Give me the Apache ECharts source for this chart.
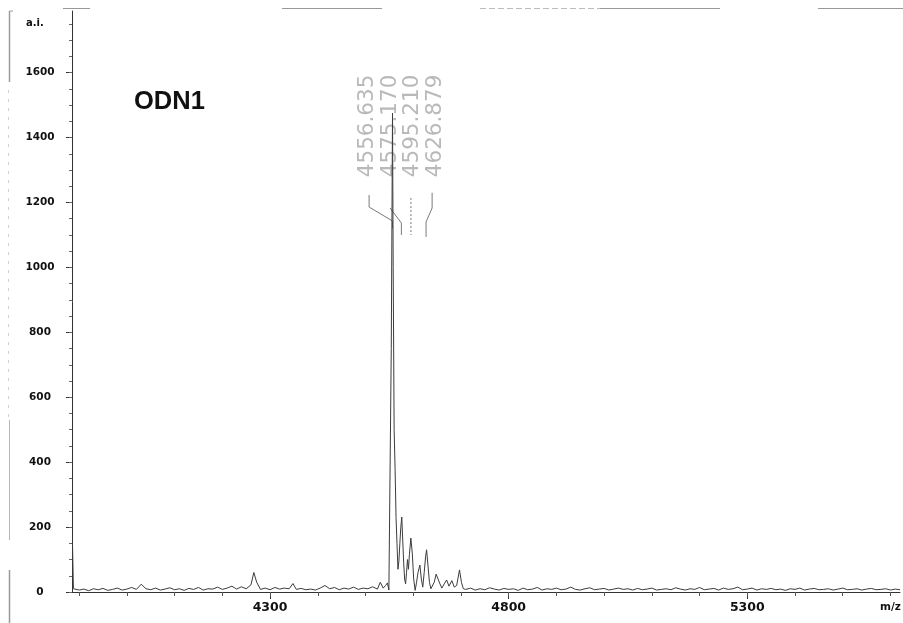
<!DOCTYPE html>
<html><head><meta charset="utf-8">
<script src="https://cdn.jsdelivr.net/npm/echarts@6/dist/echarts.min.js"></script>
<style>html,body{margin:0;padding:0;background:#fff}#c{width:903px;height:623px}</style>
</head><body><div id="c"></div>
<script>
// ---- data (m/z vs. intensity a.i.) ----
const massAxis = [
  3886, 3888, 3890, 3900, 3910, 3920, 3930, 3940, 3950, 3960,
  3970, 3980, 3990, 4000, 4010, 4020, 4030, 4040, 4050, 4060,
  4070, 4080, 4090, 4100, 4110, 4120, 4130, 4140, 4150, 4160,
  4170, 4180, 4190, 4200, 4210, 4220, 4230, 4240, 4250, 4260,
  4266, 4272, 4280, 4290, 4300, 4310, 4320, 4330, 4340, 4348,
  4355, 4365, 4375, 4385, 4395, 4405, 4415, 4425, 4435, 4445,
  4455, 4465, 4475, 4485, 4495, 4505, 4515, 4525, 4531, 4537,
  4542, 4546, 4549, 4552, 4554, 4556.6, 4558, 4560, 4562, 4564,
  4566, 4568, 4570, 4572, 4574, 4576, 4578, 4580, 4582, 4584,
  4586, 4588, 4590, 4592, 4595, 4598, 4601, 4604, 4607, 4610,
  4614, 4617, 4620, 4623, 4626, 4628, 4631, 4634, 4637, 4640,
  4644, 4648, 4652, 4656, 4660, 4665, 4670, 4675, 4681, 4686,
  4691, 4697, 4701, 4705, 4710, 4720, 4730, 4740, 4750, 4760,
  4770, 4780, 4790, 4800, 4810, 4820, 4830, 4840, 4850, 4860,
  4870, 4880, 4890, 4900, 4910, 4920, 4930, 4940, 4950, 4960,
  4970, 4980, 4990, 5000, 5010, 5020, 5030, 5040, 5050, 5060,
  5070, 5080, 5090, 5100, 5110, 5120, 5130, 5140, 5150, 5160,
  5170, 5180, 5190, 5200, 5210, 5220, 5230, 5240, 5250, 5260,
  5270, 5280, 5290, 5300, 5310, 5320, 5330, 5340, 5350, 5360,
  5370, 5380, 5390, 5400, 5410, 5420, 5430, 5440, 5450, 5460,
  5470, 5480, 5490, 5500, 5510, 5520, 5530, 5540, 5550, 5560,
  5570, 5580, 5590, 5600, 5610, 5620
];
const intensity = [
   150,   10,   12,    6,    9,    4,   10,    7,   11,    5,
     8,   12,    6,    9,   14,    8,   24,   10,    7,   12,
     6,    9,   13,    7,   10,    5,   11,    8,   14,    6,
    10,    9,   15,    8,   12,   18,    9,   16,   10,   22,
    60,   30,    8,   12,    7,   14,    9,   12,   10,   26,
     8,   11,    7,    9,    6,   12,   20,   10,   14,    7,
    12,    9,   15,    8,   12,   10,   16,    9,   30,   12,
    20,   28,    6,   10,  750, 1475, 1000,  500,  380,  230,
   150,   70,   95,  150,  200,  231,  160,   90,   40,   25,
    60,  100,   70,  115,  166,  120,   40,    5,   30,   60,
    83,   40,   15,   60,  110,  130,   80,   30,   10,    8,
    30,   55,   58,   25,   12,   25,   37,   18,   35,   15,
    20,   68,   30,   10,    8,   12,    6,   10,    7,   13,
     9,    6,   11,    8,   10,    5,   12,    7,    9,   14,
     6,   10,    8,   12,    7,    9,   15,    8,    6,   10,
    13,    7,    9,   11,    6,    9,   12,    8,   10,    6,
    11,    7,    9,   12,    6,    8,   10,    7,   13,    9,
     6,   10,    8,   14,    7,    9,   11,    6,   12,    8,
    10,   15,    7,    9,   12,    6,   10,    8,   11,    7,
     9,    5,   10,    8,   12,    6,    9,   11,    7,    8,
    10,    6,    9,   12,    7,    8,   10,    6,    9,   11,
     7,    8,   10,    6,    9,    7
];
const peakMasses = [4556.635, 4575.170, 4595.210, 4626.879];
const xTickLabels = [4300, 4800, 5300];
const yTickLabels = [0, 200, 400, 600, 800, 1000, 1200, 1400, 1600];
const sampleName = 'ODN1';

// ---- layout (not data) ----
const X_MIN = 3885, X_MAX = 5620, Y_MIN = 0, Y_MAX = 1790;
const xMinorTicks = [];
for (let v = 3900; v <= 5600; v += 100) xMinorTicks.push(v);
const yMinorTicks = [];
for (let v = 0; v <= 1750; v += 50) yMinorTicks.push(v);
const labelOffsetMz = [-51.6, -23.6, 2.5, 19.1];   // text column position relative to peak
const labelCenterY = 1436;
const leaderShapes = [
  [[-49.1, 1223], [-49.1, 1186], [0, 1143], [0, 1120]],
  [[-23.6, 1183], [0, 1137], [0, 1100]],
  [[0, 1214], [0, 1100]],
  [[12.7, 1230], [12.7, 1183], [0, 1140], [0, 1094]]
];

const spectrum = massAxis.map((m, i) => [m, intensity[i]]);
const GRID = { left: 72, right: 3, top: 11, bottom: 31 };
const plain = (v) => String(v);

const series = [{
  type: 'line', xAxisIndex: 0, yAxisIndex: 0, data: spectrum,
  showSymbol: false, symbol: 'none', sampling: null,
  lineStyle: { color: '#3c3c3c', width: 1 }, silent: true, z: 3
}, {
  type: 'scatter', xAxisIndex: 0, yAxisIndex: 0,
  data: peakMasses.map((p, i) => ({ value: [p + labelOffsetMz[i], labelCenterY], name: p.toFixed(3) })),
  symbolSize: 1, itemStyle: { color: 'rgba(0,0,0,0)' }, silent: true,
  label: {
    show: true, position: 'inside', rotate: 90, align: 'center', verticalAlign: 'middle',
    formatter: (p) => p.name,
    fontFamily: "'DejaVu Sans ExtraLight', 'DejaVu Sans'", fontSize: 21.5, color: '#a8a8a8'
  }, z: 2
}];
leaderShapes.forEach((shape, i) => {
  series.push({
    type: 'line', xAxisIndex: 0, yAxisIndex: 0, silent: true, showSymbol: false, symbol: 'none',
    data: shape.map(([d, y]) => [peakMasses[i] + d, y]),
    lineStyle: { color: '#7a7a7a', width: 1, type: i === 2 ? [2, 2] : 'solid' }, z: 2
  });
});

const axisFont = { fontFamily: 'DejaVu Sans', fontWeight: 'bold', color: '#111' };
const option = {
  animation: false,
  backgroundColor: '#fff',
  title: {
    text: sampleName, left: 129, top: 84,
    textStyle: { fontFamily: 'Liberation Sans', fontWeight: 'bold', fontSize: 25.5, color: '#111' }
  },
  grid: [Object.assign({}, GRID), Object.assign({}, GRID)],
  xAxis: [{
    type: 'value', gridIndex: 0, min: X_MIN, max: X_MAX, position: 'bottom',
    axisLine: { show: true, onZero: false, lineStyle: { color: '#333', width: 1 } },
    axisTick: { show: true, customValues: xTickLabels, length: 7, lineStyle: { color: '#333' } },
    axisLabel: Object.assign({ customValues: xTickLabels, margin: 9, fontSize: 12.5, formatter: plain }, axisFont),
    splitLine: { show: false }
  }, {
    type: 'value', gridIndex: 1, min: X_MIN, max: X_MAX, position: 'bottom',
    axisLine: { show: false },
    axisTick: { show: true, customValues: xMinorTicks, length: 4, lineStyle: { color: '#555' } },
    axisLabel: { show: false }, splitLine: { show: false }
  }],
  yAxis: [{
    type: 'value', gridIndex: 0, min: Y_MIN, max: Y_MAX, position: 'left',
    axisLine: { show: true, onZero: false, lineStyle: { color: '#333', width: 1 } },
    axisTick: { show: true, customValues: yTickLabels, length: 6, lineStyle: { color: '#333' } },
    axisLabel: Object.assign({ customValues: yTickLabels, margin: 32, align: 'center', fontSize: 10.5, formatter: plain }, axisFont),
    splitLine: { show: false }
  }, {
    type: 'value', gridIndex: 1, min: Y_MIN, max: Y_MAX, position: 'left',
    axisLine: { show: false },
    axisTick: { show: true, customValues: yMinorTicks, length: 3, lineStyle: { color: '#666' } },
    axisLabel: { show: false }, splitLine: { show: false }
  }],
  graphic: [
    { type: 'text', left: 26, top: 18, style: { text: 'a.i.', fontFamily: 'DejaVu Sans', fontWeight: 'bold', fontSize: 10, fill: '#111' } },
    { type: 'text', left: 880, top: 602, style: { text: 'm/z', fontFamily: 'DejaVu Sans', fontWeight: 'bold', fontSize: 10.5, fill: '#111' } },
    // scan frame remnants
    { type: 'line', shape: { x1: 63, y1: 8.5, x2: 90, y2: 8.5 }, style: { stroke: '#999', lineWidth: 1 } },
    { type: 'line', shape: { x1: 282, y1: 8.5, x2: 382, y2: 8.5 }, style: { stroke: '#999', lineWidth: 1 } },
    { type: 'line', shape: { x1: 480, y1: 8.5, x2: 600, y2: 8.5 }, style: { stroke: '#bbb', lineWidth: 1, lineDash: [6, 3] } },
    { type: 'line', shape: { x1: 600, y1: 8.5, x2: 720, y2: 8.5 }, style: { stroke: '#999', lineWidth: 1 } },
    { type: 'line', shape: { x1: 818, y1: 8.5, x2: 903, y2: 8.5 }, style: { stroke: '#999', lineWidth: 1 } },
    { type: 'line', shape: { x1: 9.5, y1: 11, x2: 9.5, y2: 82 }, style: { stroke: '#9c9c9c', lineWidth: 1.5 } },
    { type: 'line', shape: { x1: 9.5, y1: 11, x2: 13, y2: 11 }, style: { stroke: '#9c9c9c', lineWidth: 1 } },
    { type: 'line', shape: { x1: 8.5, y1: 90, x2: 8.5, y2: 420 }, style: { stroke: '#d0d0d0', lineWidth: 1, lineDash: [3, 6] } },
    { type: 'line', shape: { x1: 9.5, y1: 420, x2: 9.5, y2: 540 }, style: { stroke: '#b5b5b5', lineWidth: 1 } },
    { type: 'line', shape: { x1: 9.5, y1: 570, x2: 9.5, y2: 623 }, style: { stroke: '#999', lineWidth: 1.5 } }
  ],
  series: series
};
const chart = echarts.init(document.getElementById('c'), null, { renderer: 'canvas' });
chart.setOption(option);
</script>
</body></html>
